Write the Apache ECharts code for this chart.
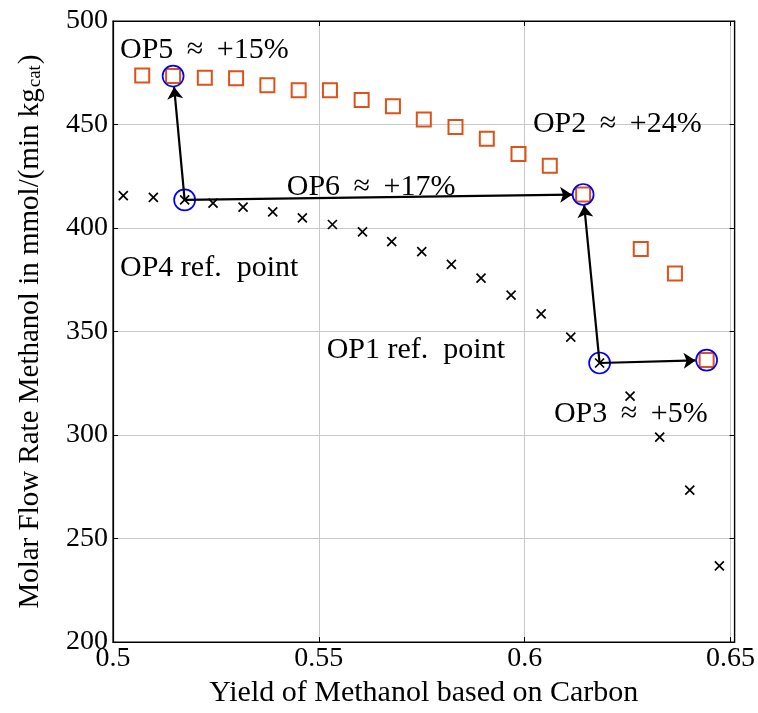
<!DOCTYPE html>
<html>
<head>
<meta charset="utf-8">
<script src="https://cdn.jsdelivr.net/npm/echarts@6/dist/echarts.min.js"></script>
<style>
  html, body { margin: 0; padding: 0; background: #fff; }
  #chart { width: 758px; height: 713px; }
</style>
</head>
<body>
<div id="chart"></div>
<script>
// reference operation (crosses)
var refX = [0.5025, 0.5098, 0.5174, 0.5243, 0.5316, 0.5388, 0.5460, 0.5533, 0.5606, 0.5677, 0.5750,
            0.5822, 0.5894, 0.5967, 0.6040, 0.6112, 0.6182, 0.6256, 0.6328, 0.6401, 0.6473];
var refY = [415.7, 414.8, 413.6, 412.0, 410.1, 407.8, 404.9, 401.7, 398.1, 393.4, 388.6,
            382.4, 375.8, 367.6, 358.5, 347.3, 334.8, 318.8, 299.0, 273.4, 236.8];
// optimized operation (squares)
var optX = [0.5071, 0.5146, 0.5223, 0.5299, 0.5375, 0.5451, 0.5527, 0.5604, 0.5680, 0.5755,
            0.5832, 0.5908, 0.5985, 0.6061, 0.6142, 0.6282, 0.6365, 0.6442];
var optY = [473.7, 473.4, 472.6, 472.3, 469.0, 466.5, 466.5, 461.8, 458.8, 452.4,
            448.8, 443.1, 435.7, 430.1, 416.2, 389.9, 378.0, 336.2];
// operating points OP1..OP5 circled (OP6 ends on OP2's marker)
var opNames = ['OP1', 'OP2', 'OP3', 'OP4', 'OP5'];
var opX = [0.6182, 0.6142, 0.6442, 0.5174, 0.5146];
var opY = [334.8, 416.2, 336.2, 413.6, 473.4];
// arrows: [from, to] indices into op arrays
var arrows = [[3, 4], [3, 1], [0, 1], [0, 2]];
// annotation texts and their left-middle anchors
var noteText = ['OP5 \u2009\u2248\u2009 +15%', 'OP2 \u2009\u2248\u2009 +24%', 'OP6 \u2009\u2248\u2009 +17%',
                'OP4 ref.  point', 'OP1 ref.  point', 'OP3 \u2009\u2248\u2009 +5%'];
var noteX = [0.5017, 0.6020, 0.5422, 0.5017, 0.5519, 0.6071];
var noteY = [485.7, 450.1, 419.9, 380.4, 341.2, 309.9];

var xTicks = [0.5, 0.55, 0.6, 0.65];
var yTicks = [200, 250, 300, 350, 400, 450, 500];

var font = 'Liberation Serif';
var chart = echarts.init(document.getElementById('chart'), null, { renderer: 'canvas' });

function zip(a, b) {
  return a.map(function (v, i) { return [v, b[i]]; });
}

function xLabel(v) {
  for (var i = 0; i < xTicks.length; i++) {
    if (Math.abs(v - xTicks[i]) < 1e-6) return String(xTicks[i]);
  }
  return '';
}

var axisLine = { show: true, lineStyle: { color: '#000', width: 1.2 } };

var option = {
  animation: false,
  backgroundColor: '#fff',
  grid: { left: 113, right: 23, top: 21, bottom: 68, show: true, borderColor: '#000', borderWidth: 1.2 },
  xAxis: [{
    type: 'value', min: 0.5, max: 0.651, interval: 0.05,
    name: 'Yield of Methanol based on Carbon', nameLocation: 'middle', nameGap: 33,
    nameTextStyle: { fontFamily: font, fontSize: 30, color: '#000' },
    axisLine: axisLine,
    axisTick: { show: true, inside: true, length: 5, lineStyle: { color: '#000' } },
    axisLabel: { formatter: xLabel, fontFamily: font, fontSize: 28, color: '#000', margin: 3 },
    splitLine: { show: true, lineStyle: { color: '#c8c8c8', width: 1 } }
  }, {
    type: 'value', min: 0.5, max: 0.651, interval: 0.05, position: 'top',
    axisLine: axisLine,
    axisTick: { show: true, inside: true, length: 5, lineStyle: { color: '#000' } },
    axisLabel: { show: false }, splitLine: { show: false }
  }],
  yAxis: [{
    type: 'value', min: 200, max: 500, interval: 50,
    name: '{t|Molar Flow Rate Methanol in mmol/(min kg}{s|cat}{t|)}',
    nameLocation: 'middle', nameGap: 68,
    nameTextStyle: {
      rich: {
        t: { fontFamily: font, fontSize: 29, color: '#000' },
        s: { fontFamily: font, fontSize: 19, color: '#000', verticalAlign: 'bottom', padding: [0, 1, 0, 1] }
      }
    },
    axisLine: axisLine,
    axisTick: { show: true, inside: true, length: 5, lineStyle: { color: '#000' } },
    axisLabel: { fontFamily: font, fontSize: 28, color: '#000', margin: 5 },
    splitLine: { show: true, lineStyle: { color: '#c8c8c8', width: 1 } }
  }, {
    type: 'value', min: 200, max: 500, interval: 50, position: 'right',
    axisLine: axisLine,
    axisTick: { show: true, inside: true, length: 5, lineStyle: { color: '#000' } },
    axisLabel: { show: false }, splitLine: { show: false }
  }],
  series: [{
    name: 'reference', type: 'scatter', data: zip(refX, refY),
    symbol: 'path://M0,0L10,10M10,0L0,10', symbolSize: 9,
    itemStyle: { color: 'transparent', borderColor: '#000', borderWidth: 1.7, opacity: 1 },
    z: 3
  }, {
    name: 'optimized', type: 'scatter', data: zip(optX, optY),
    symbol: 'rect', symbolSize: 14,
    itemStyle: { color: 'transparent', borderColor: '#dd5218', borderWidth: 2, opacity: 1 },
    z: 3
  }, {
    name: 'OP', type: 'scatter', data: zip(opX, opY),
    symbol: 'circle', symbolSize: 21,
    itemStyle: { color: 'transparent', borderColor: '#0000ff', borderWidth: 1.7, opacity: 1 },
    z: 4
  }, {
    id: 'arrows', type: 'lines', coordinateSystem: 'cartesian2d',
    symbol: ['none', 'arrow'], symbolSize: [9, 12],
    lineStyle: { color: '#000', width: 2.2, opacity: 1 },
    data: [], z: 5
  }, {
    name: 'notes', type: 'scatter', symbolSize: 0, silent: true,
    data: noteText.map(function (t, i) { return { value: [noteX[i], noteY[i]], name: t }; }),
    label: {
      show: true, position: 'inside', align: 'left', verticalAlign: 'middle',
      formatter: '{b}', fontFamily: font, fontSize: 30, color: '#000', opacity: 1,
      textBorderWidth: 0
    },
    z: 6
  }]
};
chart.setOption(option);

// stop each arrow at the edge of its target circle
var radius = 11;
var arrowData = arrows.map(function (a) {
  var from = [opX[a[0]], opY[a[0]]];
  var to = [opX[a[1]], opY[a[1]]];
  var p1 = chart.convertToPixel({ gridIndex: 0 }, from);
  var p2 = chart.convertToPixel({ gridIndex: 0 }, to);
  var dx = p2[0] - p1[0], dy = p2[1] - p1[1];
  var len = Math.sqrt(dx * dx + dy * dy);
  var end = [p2[0] - dx / len * radius, p2[1] - dy / len * radius];
  return { coords: [from, chart.convertFromPixel({ gridIndex: 0 }, end)] };
});
chart.setOption({ series: [{ id: 'arrows', data: arrowData }] });
</script>
</body>
</html>
